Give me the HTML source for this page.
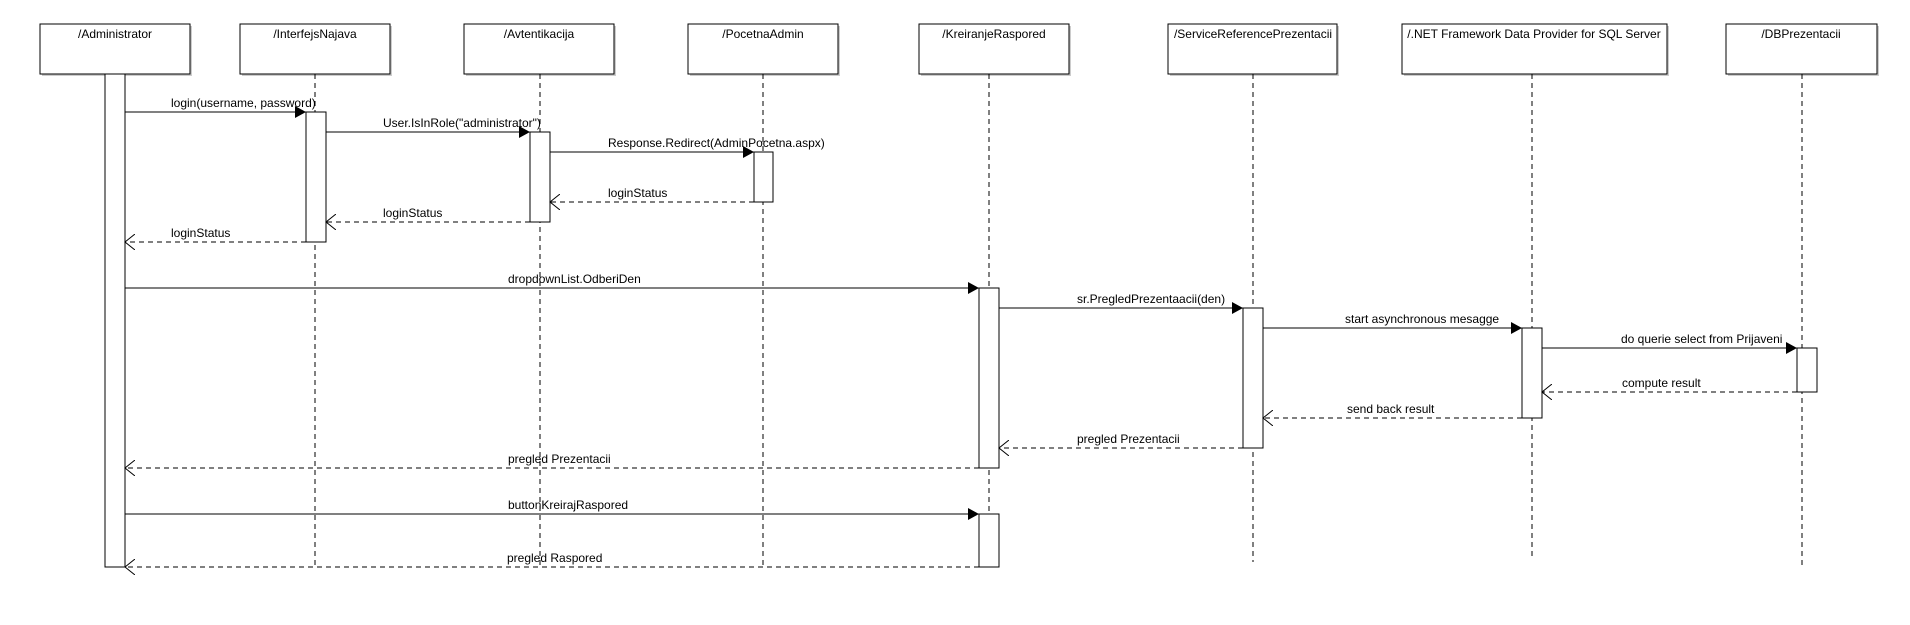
<!DOCTYPE html>
<html><head><meta charset="utf-8"><style>
html,body{margin:0;padding:0;background:#fff;width:1910px;height:625px;overflow:hidden}
text{font-family:"Liberation Sans",Arial,sans-serif;font-size:12px;fill:#000}
</style></head><body>
<svg width="1910" height="625" xmlns="http://www.w3.org/2000/svg">
<defs>
<marker id="f" markerWidth="12" markerHeight="12" refX="11" refY="6" orient="auto" markerUnits="userSpaceOnUse"><path d="M0,0 L11,6 L0,12 z" fill="#000"/></marker>
<marker id="o" markerWidth="12" markerHeight="16" refX="10" refY="8" orient="auto" markerUnits="userSpaceOnUse"><path d="M0,0 L10,8 L0,16" fill="none" stroke="#000"/></marker>
</defs>
<g fill="#ccc">
<rect x="42" y="26" width="150" height="50"/><rect x="242" y="26" width="150" height="50"/><rect x="466" y="26" width="150" height="50"/>
<rect x="690" y="26" width="150" height="50"/><rect x="921" y="26" width="150" height="50"/><rect x="1170" y="26" width="169" height="50"/>
<rect x="1404" y="26" width="265" height="50"/><rect x="1728" y="26" width="151" height="50"/>
</g>
<g fill="#fff" stroke="#000">
<rect x="40" y="24" width="150" height="50"/><rect x="240" y="24" width="150" height="50"/><rect x="464" y="24" width="150" height="50"/>
<rect x="688" y="24" width="150" height="50"/><rect x="919" y="24" width="150" height="50"/><rect x="1168" y="24" width="169" height="50"/>
<rect x="1402" y="24" width="265" height="50"/><rect x="1726" y="24" width="151" height="50"/>
</g>
<g text-anchor="middle">
<text x="115" y="38">/Administrator</text><text x="315" y="38">/InterfejsNajava</text><text x="539" y="38">/Avtentikacija</text>
<text x="763" y="38">/PocetnaAdmin</text><text x="994" y="38">/KreiranjeRaspored</text><text x="1253" y="38">/ServiceReferencePrezentacii</text>
<text x="1534" y="38">/.NET Framework Data Provider for SQL Server</text><text x="1801" y="38">/DBPrezentacii</text>
</g>
<g stroke="#000" stroke-dasharray="5,4">
<line x1="315" y1="74" x2="315" y2="568"/><line x1="540" y1="74" x2="540" y2="568"/><line x1="763" y1="74" x2="763" y2="568"/>
<line x1="989" y1="74" x2="989" y2="568"/><line x1="1253" y1="74" x2="1253" y2="562"/><line x1="1532" y1="74" x2="1532" y2="560"/>
<line x1="1802" y1="74" x2="1802" y2="566"/>
</g>
<g fill="#fff" stroke="#000">
<rect x="105" y="74" width="20" height="493"/>
<rect x="306" y="112" width="20" height="130"/>
<rect x="530" y="132" width="20" height="90"/>
<rect x="754" y="152" width="19" height="50"/>
<rect x="979" y="288" width="20" height="180"/>
<rect x="979" y="514" width="20" height="53"/>
<rect x="1243" y="308" width="20" height="140"/>
<rect x="1522" y="328" width="20" height="90"/>
<rect x="1797" y="348" width="20" height="44"/>
</g>
<g stroke="#000">
<line x1="125" y1="112" x2="306" y2="112" marker-end="url(#f)"/>
<line x1="326" y1="132" x2="530" y2="132" marker-end="url(#f)"/>
<line x1="550" y1="152" x2="754" y2="152" marker-end="url(#f)"/>
<line x1="125" y1="288" x2="979" y2="288" marker-end="url(#f)"/>
<line x1="999" y1="308" x2="1243" y2="308" marker-end="url(#f)"/>
<line x1="1263" y1="328" x2="1522" y2="328" marker-end="url(#f)"/>
<line x1="1542" y1="348" x2="1797" y2="348" marker-end="url(#f)"/>
<line x1="125" y1="514" x2="979" y2="514" marker-end="url(#f)"/>
</g>
<g stroke="#000" stroke-dasharray="5,4">
<line x1="754" y1="202" x2="550" y2="202" marker-end="url(#o)"/>
<line x1="530" y1="222" x2="326" y2="222" marker-end="url(#o)"/>
<line x1="306" y1="242" x2="125" y2="242" marker-end="url(#o)"/>
<line x1="1797" y1="392" x2="1542" y2="392" marker-end="url(#o)"/>
<line x1="1522" y1="418" x2="1263" y2="418" marker-end="url(#o)"/>
<line x1="1243" y1="448" x2="999" y2="448" marker-end="url(#o)"/>
<line x1="979" y1="468" x2="125" y2="468" marker-end="url(#o)"/>
<line x1="979" y1="567" x2="125" y2="567" marker-end="url(#o)"/>
</g>
<text x="171" y="107">login(username, password)</text>
<text x="383" y="127">User.IsInRole("administrator")</text>
<text x="608" y="147">Response.Redirect(AdminPocetna.aspx)</text>
<text x="608" y="197">loginStatus</text>
<text x="383" y="217">loginStatus</text>
<text x="171" y="237">loginStatus</text>
<text x="508" y="283">dropdownList.OdberiDen</text>
<text x="1077" y="303">sr.PregledPrezentaacii(den)</text>
<text x="1345" y="323">start asynchronous mesagge</text>
<text x="1621" y="343">do querie select from Prijaveni</text>
<text x="1622" y="387">compute result</text>
<text x="1347" y="413">send back result</text>
<text x="1077" y="443">pregled Prezentacii</text>
<text x="508" y="463">pregled Prezentacii</text>
<text x="508" y="509">buttonKreirajRaspored</text>
<text x="507" y="562">pregled Raspored</text>
</svg>
</body></html>
